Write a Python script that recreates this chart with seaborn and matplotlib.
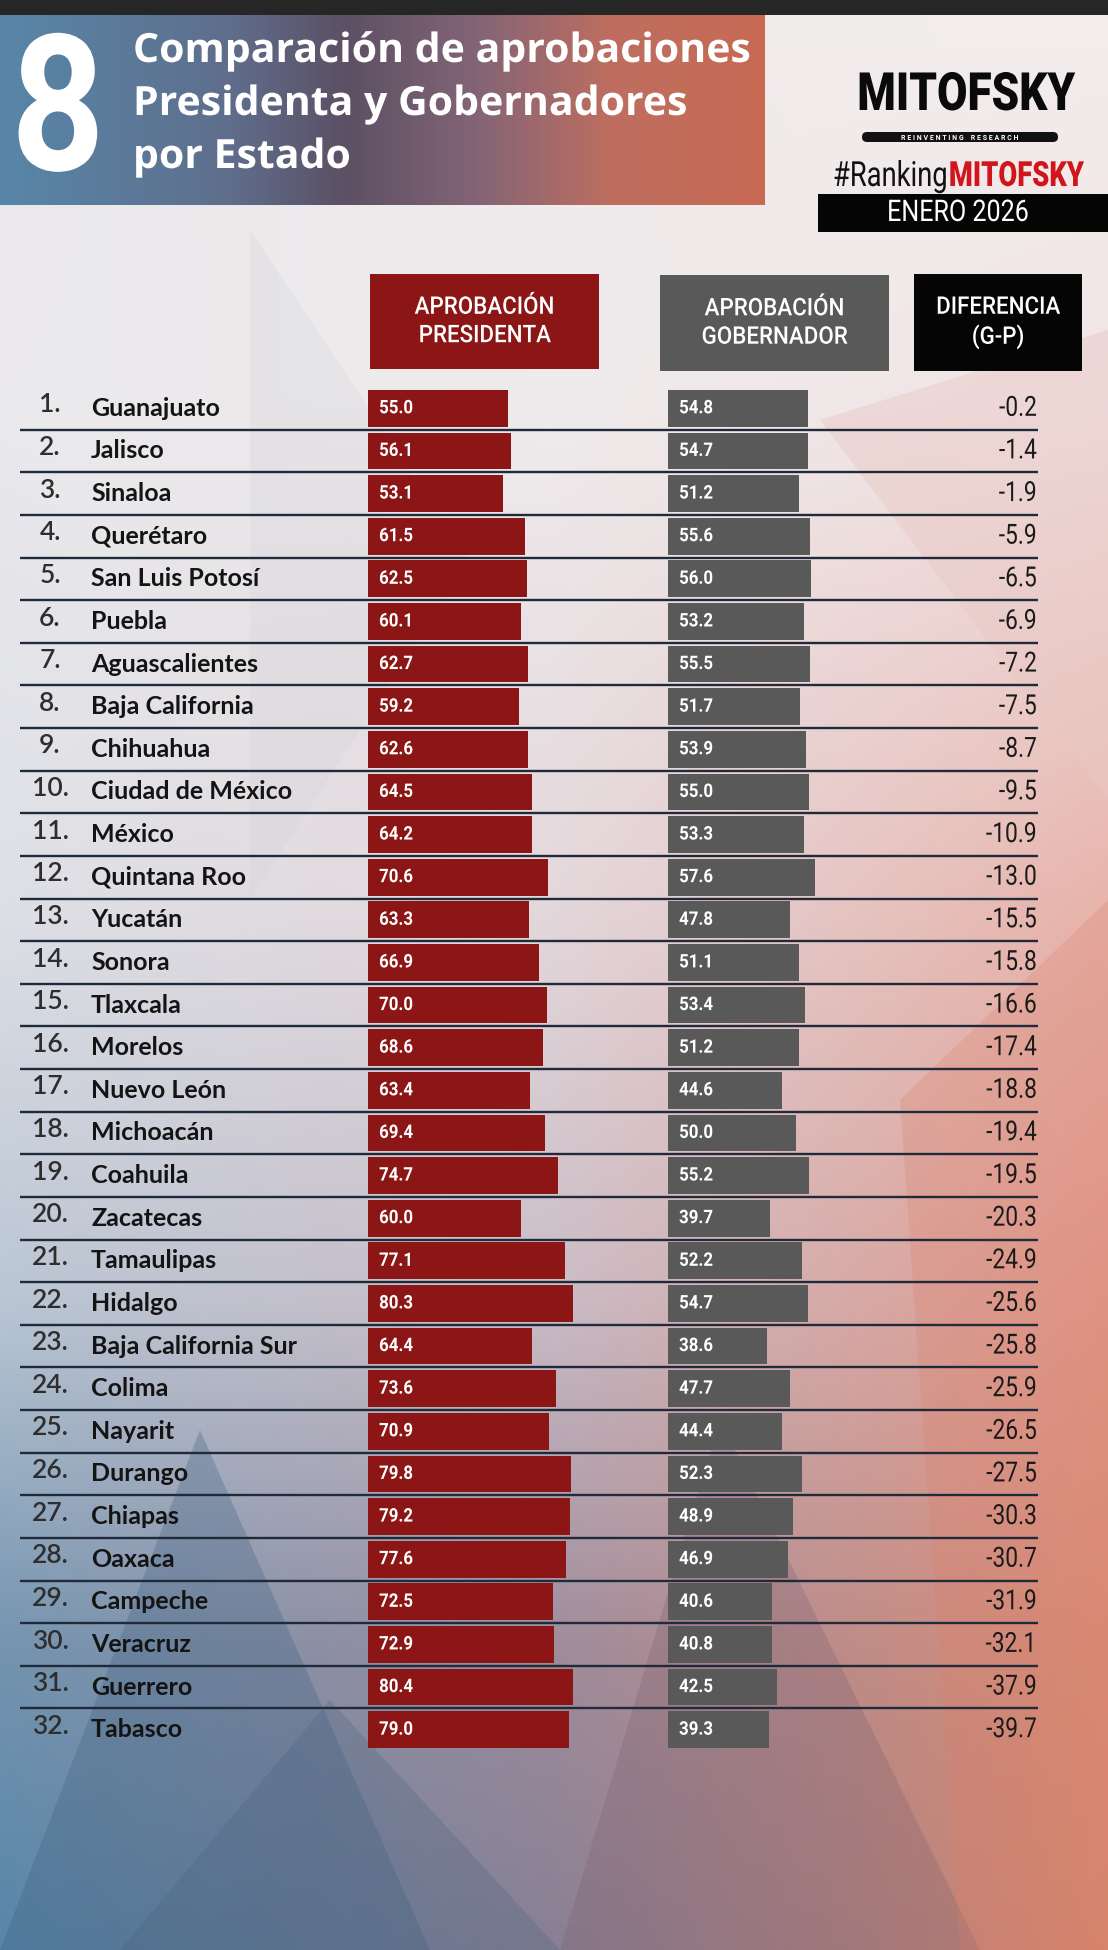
import numpy as np
import pandas as pd
import matplotlib
matplotlib.use("Agg")
import matplotlib.pyplot as plt
import matplotlib.transforms as mtransforms
from matplotlib import patheffects as pe
from matplotlib.patches import Rectangle, FancyBboxPatch, Polygon
import seaborn as sns

# ---------------- data ----------------
ranks = list(range(1, 33))
estados = ["Guanajuato", "Jalisco", "Sinaloa", "Querétaro", "San Luis Potosí", "Puebla",
           "Aguascalientes", "Baja California", "Chihuahua", "Ciudad de México", "México",
           "Quintana Roo", "Yucatán", "Sonora", "Tlaxcala", "Morelos", "Nuevo León",
           "Michoacán", "Coahuila", "Zacatecas", "Tamaulipas", "Hidalgo",
           "Baja California Sur", "Colima", "Nayarit", "Durango", "Chiapas", "Oaxaca",
           "Campeche", "Veracruz", "Guerrero", "Tabasco"]
aprob_presidenta = [55.0, 56.1, 53.1, 61.5, 62.5, 60.1, 62.7, 59.2, 62.6, 64.5, 64.2,
                    70.6, 63.3, 66.9, 70.0, 68.6, 63.4, 69.4, 74.7, 60.0, 77.1, 80.3,
                    64.4, 73.6, 70.9, 79.8, 79.2, 77.6, 72.5, 72.9, 80.4, 79.0]
aprob_gobernador = [54.8, 54.7, 51.2, 55.6, 56.0, 53.2, 55.5, 51.7, 53.9, 55.0, 53.3,
                    57.6, 47.8, 51.1, 53.4, 51.2, 44.6, 50.0, 55.2, 39.7, 52.2, 54.7,
                    38.6, 47.7, 44.4, 52.3, 48.9, 46.9, 40.6, 40.8, 42.5, 39.3]
diferencia = [-0.2, -1.4, -1.9, -5.9, -6.5, -6.9, -7.2, -7.5, -8.7, -9.5, -10.9,
              -13.0, -15.5, -15.8, -16.6, -17.4, -18.8, -19.4, -19.5, -20.3, -24.9,
              -25.6, -25.8, -25.9, -26.5, -27.5, -30.3, -30.7, -31.9, -32.1, -37.9, -39.7]

titulo = ["Comparación de aprobaciones", "Presidenta y Gobernadores", "por Estado"]
col_headers = ["APROBACIÓN\nPRESIDENTA", "APROBACIÓN\nGOBERNADOR", "DIFERENCIA\n(G-P)"]

df = pd.DataFrame({"rank": ranks, "estado": estados, "presidenta": aprob_presidenta,
                   "gobernador": aprob_gobernador, "dif": diferencia})

# ---------------- style ----------------
sns.set_theme(style="white")
plt.rcParams["font.family"] = ["Lato", "DejaVu Sans"]
COND = ["Roboto", "DejaVu Sans"]


class Condense(pe.AbstractPathEffect):
    """Horizontally squeezes the glyph outlines (condensed lettering)."""

    def __init__(self, sx, anchor="center"):
        super().__init__()
        self.sx = sx
        self.anchor = anchor

    def draw_path(self, renderer, gc, tpath, affine, rgbFace=None):
        ext = tpath.get_extents(affine)
        cx = {"left": ext.x0, "right": ext.x1}.get(self.anchor, 0.5 * (ext.x0 + ext.x1))
        sq = mtransforms.Affine2D().translate(-cx, 0).scale(self.sx, 1).translate(cx, 0)
        renderer.draw_path(gc, tpath, affine + sq, rgbFace)


class Heighten(pe.AbstractPathEffect):
    """Vertically stretches glyph outlines about the text baseline."""

    def __init__(self, sy):
        super().__init__()
        self.sy = sy
        self.text = None

    def draw_path(self, renderer, gc, tpath, affine, rgbFace=None):
        t = self.text
        by = t.get_transform().transform(t.get_position())[1]
        st = mtransforms.Affine2D().translate(0, -by).scale(1, self.sy).translate(0, by)
        renderer.draw_path(gc, tpath, affine + st, rgbFace)


RED = "#8c1515"
GREY = "#595959"
BLACK = "#050505"

W, H = 1108, 1950
fig = plt.figure(figsize=(W / 100, H / 100), dpi=100)
renderer = fig.canvas.get_renderer()


def width_px(t):
    return t.get_window_extent(renderer=renderer).width


# ---------------- background ----------------
bg = fig.add_axes([0, 0, 1, 1])
bg.set_xlim(0, W)
bg.set_ylim(H, 0)
bg.set_axis_off()

ys = np.array([0, 400, 900, 1300, 1650, 1950])
xs = np.array([0, 550, 1108])
anchor = np.array([
    [[234, 232, 235], [240, 236, 237], [243, 237, 237]],
    [[234, 233, 236], [239, 235, 236], [242, 228, 228]],
    [[222, 224, 230], [228, 216, 220], [232, 180, 172]],
    [[186, 198, 212], [202, 188, 198], [226, 154, 140]],
    [[116, 148, 176], [158, 140, 156], [218, 140, 118]],
    [[88, 134, 168], [136, 128, 148], [214, 134, 110]],
], dtype=float) / 255.0
gy = np.linspace(0, H, 200)
gx = np.linspace(0, W, 120)
tmp = np.empty((len(ys), len(gx), 3))
for i in range(len(ys)):
    for c in range(3):
        tmp[i, :, c] = np.interp(gx, xs, anchor[i, :, c])
img = np.empty((len(gy), len(gx), 3))
for j in range(len(gx)):
    for c in range(3):
        img[:, j, c] = np.interp(gy, ys, tmp[:, j, c])
bg.imshow(img, extent=[0, W, H, 0], aspect="auto", interpolation="bilinear", zorder=0)

polys = [
    ([(0, 1950), (200, 1430), (430, 1950)], "#3e5f80", 0.30),
    ([(120, 1950), (330, 1700), (560, 1950)], "#47607c", 0.25),
    ([(560, 1950), (720, 1420), (980, 1950)], "#7a5e70", 0.28),
    ([(900, 1100), (1108, 900), (1108, 1950), (960, 1950)], "#d9806a", 0.25),
    ([(250, 230), (470, 560), (250, 900)], "#d4d4da", 0.30),
    ([(820, 420), (1108, 330), (1108, 800)], "#e8c8c4", 0.45),
]
for pts, col, a in polys:
    bg.add_patch(Polygon(pts, closed=True, facecolor=col, edgecolor="none", alpha=a, zorder=1))

bg.add_patch(Rectangle((0, 0), W, 15, facecolor="#262626", edgecolor="none", zorder=2))

# header banner gradient
bx = np.linspace(0, 1, 200)
bxa = [0.0, 0.30, 0.45, 0.62, 0.80, 1.0]
bca = np.array([[88, 134, 168], [95, 110, 140], [92, 80, 100], [130, 100, 118],
                [190, 110, 96], [200, 106, 84]]) / 255.0
band = np.stack([np.interp(bx, bxa, bca[:, c]) for c in range(3)], axis=-1)[None, :, :]
band = np.repeat(band, 4, axis=0)
bg.imshow(band, extent=[0, 765, 205, 15], aspect="auto", interpolation="bilinear", zorder=2)

t8 = bg.text(58, 170, "8", color="white", fontsize=137, fontweight="bold",
             family=COND, ha="center", va="baseline", zorder=3)
t8.set_path_effects([Condense(0.86, "center")])

ttl = []
for line, yb in zip(titulo, [62, 115, 168]):
    ttl.append(bg.text(133, yb, line, color="white", fontsize=29, fontweight="bold",
                       family=["Open Sans", "DejaVu Sans"], ha="left", va="baseline", zorder=3))
sx_t = 616 / width_px(ttl[0])
for t in ttl:
    t.set_path_effects([Condense(sx_t, "left")])

# logo area
tm = bg.text(966, 110, "MITOFSKY", color="#0a0a0a", fontsize=38, fontweight="heavy",
             family=COND, ha="center", va="baseline", zorder=3)
tm.set_path_effects([Condense(218 / width_px(tm), "center")])
bg.add_patch(FancyBboxPatch((862, 132), 196, 10, boxstyle="round,pad=0,rounding_size=5",
                            facecolor="#111111", edgecolor="none", zorder=3))
bg.text(960, 137.5, "R E I N V E N T I N G    R E S E A R C H", color="white", fontsize=5,
        fontweight="bold", family=COND, ha="center", va="center", zorder=4)

# "#Ranking" + "MITOFSKY" : sized to fit 253 px, then heightened to the reference's letter height
R_FS = 25
r1 = bg.text(833, 186, "#Ranking", color="#111111", fontsize=R_FS,
             family=COND, ha="left", va="baseline", zorder=3)
r2 = bg.text(833, 186, "MITOFSKY", color="#d0151c", fontsize=R_FS, fontweight="heavy",
             family=COND, ha="left", va="baseline", zorder=3)
w1, w2 = width_px(r1), width_px(r2)
k = 250 / (w1 + w2)
r1.set_fontsize(R_FS * k)
r2.set_fontsize(R_FS * k)
w1 = width_px(r1)
r2.set_x(833 + w1 + 1)
for t in (r1, r2):
    h = Heighten(1 / k)
    h.text = t
    t.set_path_effects([h])

bg.add_patch(Rectangle((818, 194), 290, 38, facecolor=BLACK, edgecolor="none", zorder=3))
te = bg.text(958, 213, "ENERO 2026", color="white", fontsize=21.5,
             family=COND, ha="center", va="center", zorder=4)
te.set_path_effects([Condense(142 / width_px(te), "center")])

# column header boxes
boxes = [(370, 274, 229, 95, RED), (660, 275, 229, 96, GREY), (914, 274, 168, 97, BLACK)]
for (x0, y0, w, h, col), lab in zip(boxes, col_headers):
    bg.add_patch(Rectangle((x0, y0), w, h, facecolor=col, edgecolor="none", zorder=3))
    th = bg.text(x0 + w / 2, y0 + h / 2, lab, color="white", fontsize=17.5, linespacing=1.3,
                 fontweight="medium", family=COND, ha="center", va="center", zorder=4)
    th.set_path_effects([Condense(0.92, "center")])

# ---------------- table geometry ----------------
TOP, BOT = 387, 1751
n = len(df)


def frac_rect(x0, w):
    return [x0 / W, (H - BOT) / H, w / W, (BOT - TOP) / H]


ax_t = fig.add_axes(frac_rect(0, W), facecolor="none")
ax_t.set_xlim(0, W)
ax_t.set_ylim(n - 0.5, -0.5)
ax_t.set_axis_off()

ax_p = fig.add_axes(frac_rect(368, 255), facecolor="none")
sns.barplot(data=df, x="presidenta", y="estado", orient="h", color=RED, saturation=1,
            width=0.86, linewidth=0, ax=ax_p)
ax_p.set_xlim(0, 100)
ax_p.set_ylim(n - 0.5, -0.5)
ax_p.set_axis_off()

ax_g = fig.add_axes(frac_rect(668, 256), facecolor="none")
sns.barplot(data=df, x="gobernador", y="estado", orient="h", color=GREY, saturation=1,
            width=0.86, linewidth=0, ax=ax_g)
ax_g.set_xlim(0, 100)
ax_g.set_ylim(n - 0.5, -0.5)
ax_g.set_axis_off()

off_p = mtransforms.offset_copy(ax_p.transData, fig=fig, x=11 * 0.72, y=0, units="points")
off_g = mtransforms.offset_copy(ax_g.transData, fig=fig, x=11 * 0.72, y=0, units="points")
val_pe = [Condense(0.9, "left")]
dif_pe = [Condense(0.82, "right")]
for i, row in df.iterrows():
    ax_p.text(0, i, f"{row.presidenta:.1f}", transform=off_p, color="white", fontsize=13.5,
              fontweight="bold", family=COND, ha="left", va="center", path_effects=val_pe)
    ax_g.text(0, i, f"{row.gobernador:.1f}", transform=off_g, color="white", fontsize=13.5,
              fontweight="bold", family=COND, ha="left", va="center", path_effects=val_pe)
    ax_t.text(50, i - 0.08, f"{row['rank']}.", color="#2e2e2e", fontsize=19,
              fontweight="semibold", ha="center", va="center")
    ax_t.text(91, i, row.estado, color="#141414", fontsize=18, fontweight="bold",
              ha="left", va="center")
    ax_t.text(1037, i, f"{row.dif:.1f}", color="#1a1a1a", fontsize=20,
              family=COND, ha="right", va="center", path_effects=dif_pe)

for k2 in range(n - 1):
    ax_t.plot([20, 1038], [k2 + 0.5, k2 + 0.5], color="#1f2b3a", linewidth=1.7,
              solid_capstyle="butt", zorder=1)

fig.savefig("out.png", dpi=100)
